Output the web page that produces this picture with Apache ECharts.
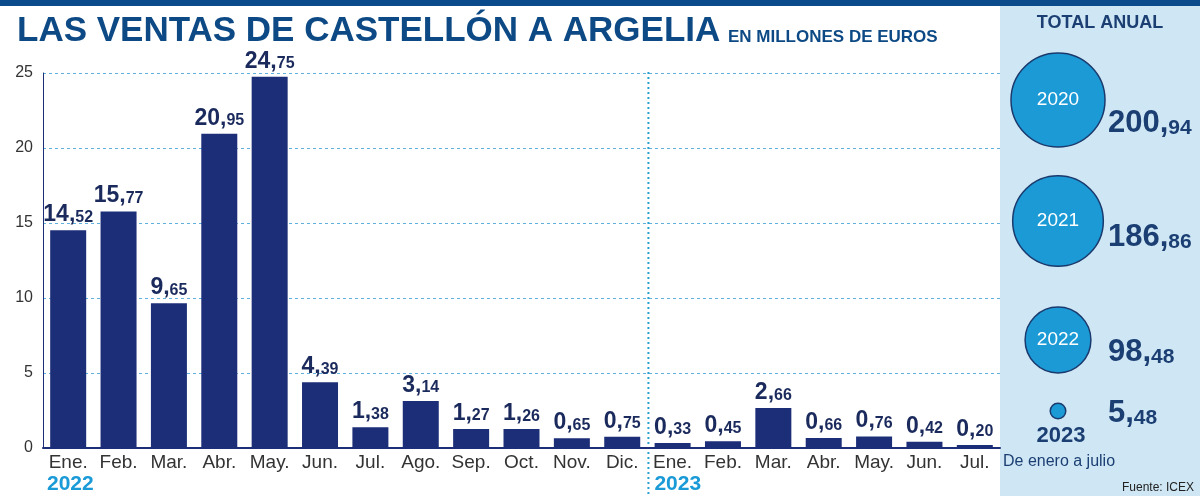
<!DOCTYPE html>
<html><head><meta charset="utf-8">
<script src="https://cdn.jsdelivr.net/npm/echarts@6/dist/echarts.min.js"></script>
<style>html,body{margin:0;padding:0;background:#fff}#c{width:1200px;height:496px}</style>
</head><body><div id="c"></div>
<script>
const months2022 = ['Ene.','Feb.','Mar.','Abr.','May.','Jun.','Jul.','Ago.','Sep.','Oct.','Nov.','Dic.'];
const values2022 = [14.52,15.77,9.65,20.95,24.75,4.39,1.38,3.14,1.27,1.26,0.65,0.75];
const months2023 = ['Ene.','Feb.','Mar.','Abr.','May.','Jun.','Jul.'];
const values2023 = [0.33,0.45,2.66,0.66,0.76,0.42,0.20];
const yTicks = [0,5,10,15,20,25];
const totalYears = ['2020','2021','2022','2023'];
const totalValues = [200.94,186.86,98.48,5.48];

const NAVY='#1c2e78', TXT='#1b2a5c', TITLE='#0d4a85', CYAN='#1a9ad6', PANEL='#1b3f73';
const SANS='"Liberation Sans",Arial,sans-serif';
const categories = months2022.concat(months2023);
const values = values2022.concat(values2023);

function splitNum(v){return v.toFixed(2).split('.');}

const chart = echarts.init(document.getElementById('c'));
chart.setOption({
  animation:false,
  grid:{left:43,right:200,top:73,bottom:48},
  xAxis:{type:'category',data:categories,
    axisLine:{lineStyle:{color:NAVY,width:2}},axisTick:{show:false},
    axisLabel:{color:'#333',fontFamily:SANS,fontSize:19,margin:5,interval:0}},
  yAxis:{type:'value',min:yTicks[0],max:yTicks[yTicks.length-1],interval:5,
    axisLine:{show:true,lineStyle:{color:NAVY,width:1}},axisTick:{show:false},
    axisLabel:{color:'#333',fontFamily:SANS,fontSize:16,margin:10},
    splitLine:{lineStyle:{color:'#5fb0de',type:[3,3],width:1}}},
  series:[{type:'bar',data:values,barWidth:36,itemStyle:{color:NAVY},
    label:{show:true,position:'top',distance:4,
      formatter:p=>{const s=splitNum(p.value);return '{a|'+s[0]+',}{b|'+s[1]+'}';},
      rich:{a:{fontFamily:SANS,fontWeight:'bold',fontSize:23,color:TXT},
            b:{fontFamily:SANS,fontWeight:'bold',fontSize:16,color:TXT,verticalAlign:'bottom',padding:[0,0,1,0]}}}}]
});

const g=[];
g.push({type:'rect',shape:{x:1000,y:0,width:200,height:496},style:{fill:'#cfe6f4'},z:-1});
g.push({type:'rect',shape:{x:0,y:0,width:1200,height:6},style:{fill:'#0b4a8b'}});
g.push({type:'text',x:17,y:31,style:{text:'LAS VENTAS DE CASTELLÓN A ARGELIA',font:'bold 35px '+SANS,fill:TITLE,verticalAlign:'middle'}});
g.push({type:'text',x:728,y:37,style:{text:'EN MILLONES DE EUROS',font:'bold 17px '+SANS,fill:TITLE,verticalAlign:'middle'}});
const xL = chart.convertToPixel({xAxisIndex:0},months2022.length-1);
const xR = chart.convertToPixel({xAxisIndex:0},months2022.length);
const xd=(xL+xR)/2+1;
g.push({type:'line',shape:{x1:xd,y1:72,x2:xd,y2:496},style:{stroke:'#2aa0d0',lineWidth:2,lineDash:[2,3]}});
const bw=xR-xL;
g.push({type:'text',x:chart.convertToPixel({xAxisIndex:0},0)-bw/2+4,y:484,style:{text:'2022',font:'bold 21px '+SANS,fill:CYAN,verticalAlign:'middle'}});
g.push({type:'text',x:xR-bw/2+7,y:484,style:{text:'2023',font:'bold 21px '+SANS,fill:CYAN,verticalAlign:'middle'}});
g.push({type:'text',x:1100,y:23,style:{text:'TOTAL ANUAL',font:'bold 18px '+SANS,fill:PANEL,align:'center',verticalAlign:'middle'}});
const cy=[100,221,340,411], vy=[123,237,352,413];
const k=47/Math.sqrt(totalValues[0]);
totalValues.forEach((v,i)=>{
  const r=k*Math.sqrt(v);
  g.push({type:'circle',shape:{cx:1058,cy:cy[i],r:r},style:{fill:'#1b9ad6',stroke:'#1a3a6e',lineWidth:1.5}});
  if(i<3) g.push({type:'text',x:1058,y:cy[i],style:{text:totalYears[i],font:'19px '+SANS,fill:'#fff',align:'center',verticalAlign:'middle'}});
  const s=splitNum(v);
  g.push({type:'text',x:1108,y:vy[i],style:{rich:{a:{font:'bold 31px '+SANS,fill:PANEL},b:{font:'bold 21px '+SANS,fill:PANEL,verticalAlign:'bottom'}},text:'{a|'+s[0]+',}{b|'+s[1]+'}',verticalAlign:'middle'}});
});
g.push({type:'text',x:1061,y:436,style:{text:totalYears[3],font:'bold 22px '+SANS,fill:PANEL,align:'center',verticalAlign:'middle'}});
g.push({type:'text',x:1003,y:462,style:{text:'De enero a julio',font:'16px '+SANS,fill:PANEL,verticalAlign:'middle'}});
g.push({type:'text',x:1194,y:488,style:{text:'Fuente: ICEX',font:'12px '+SANS,fill:'#222',align:'right',verticalAlign:'middle'}});
chart.setOption({graphic:{elements:g}});
</script></body></html>
